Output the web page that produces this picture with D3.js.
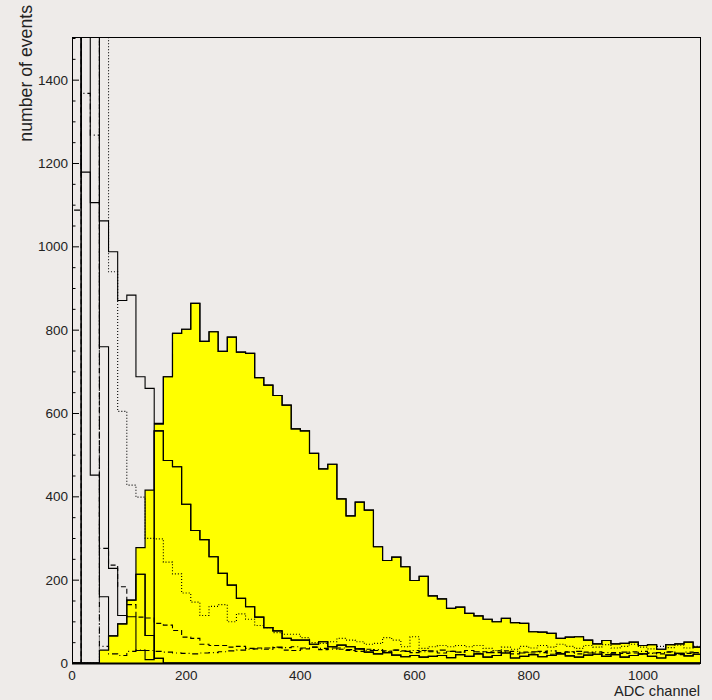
<!DOCTYPE html>
<html>
<head>
<meta charset="utf-8">
<script src="https://cdn.jsdelivr.net/npm/d3@7/dist/d3.min.js"></script>
<style>
  body { margin: 0; background: #eeebe9; }
  svg { display: block; }
  text { font-family: "Liberation Sans", Arial, sans-serif; fill: #222; }
</style>
</head>
<body>
<script>
//histogram bins are 16 ADC channels wide, 69 bins from 0
var binWidth = 16;

//pedestal-cut spectra (drawn filled yellow)
var yellowMain = [0,0,0,0,0,40,110,277,415,573,
    687,791,801,863,772,795,748,782,746,743,
    685,667,642,619,562,557,503,466,477,394,
    353,386,367,279,246,254,231,198,208,161,
    154,131,134,119,113,105,99,107,97,95,
    75,74,71,59,62,63,55,46,54,46,
    47,50,42,44,33,44,46,50,38];
var yellowMid = [0,0,0,0,0,0,0,0,0,557,
    486,471,381,318,296,255,215,187,155,135,
    110,85,77,59,55,55,45,51,39,43,
    39,34,26,22,25,19,15,18,14,16,
    18,13,20,16,22,14,18,24,12,16,
    20,15,18,22,17,14,19,21,16,20,
    14,18,22,16,12,19,23,17,21];
var yellowSmall = [0,0,0,31,65,94,151,213,66,11,
    0,0,0,0,0,0,0,0,0,0,
    0,0,0,0,0,0,0,0,0,0,
    0,0,0,0,0,0,0,0,0,0,
    0,0,0,0,0,0,0,0,0,0,
    0,0,0,0,0,0,0,0,0,0,
    0,0,0,0,0,0,0,0,0];

//raw spectra (pedestal + signal), above the pedestal they follow the cut ones
var rawSolidA = [0,2500,451,159].concat(yellowSmall.slice(4));
var rawSolidB = [2500,1178,1105,759,227,114,111,30,8].concat(yellowMid.slice(9));
var rawSolidC = [0,2500,2500,1061,987,870,883,687,659,575].concat(yellowMain.slice(10));
var rawDotted = [0,0,0,2500,939,604,427,398,299,298,
    242,214,168,146,114,136,140,99,118,105,
    90,85,73,69,69,61,49,47,51,59,
    55,51,45,47,61,55,39,63,35,39,
    42,39,42,39,42,35,30,38,33,40,
    36,42,38,45,40,35,42,38,44,36,
    40,45,38,34,40,37,43,36,40];
var rawDashed = [0,2500,2500,275,235,183,140,110,108,95,
    91,78,62,59,45,42,42,38,40,35,
    36,33,37,31,30,34,38,32,36,33,
    30,28,33,30,27,31,29,25,30,27,
    24,28,26,30,23,27,25,29,22,26,
    24,28,21,25,27,22,26,24,20,25,
    23,27,21,24,22,26,20,23,25];
var rawDashDot = [1087,1367,1267,40,22,18,28,31,30,28,
    26,24,23,22,24,25,27,29,31,33,
    34,36,38,37,39,36,38,35,33,36,
    32,34,30,32,29,31,28,30,27,29,
    31,28,26,30,27,25,29,26,28,24,
    27,25,29,23,26,28,24,27,25,22,
    26,24,28,23,25,27,22,26,24];

var xTicks = [0, 200, 400, 600, 800, 1000];
var yTicks = [0, 200, 400, 600, 800, 1000, 1200, 1400];

drawChart();

function drawChart(){
    var width = 712,
        height = 700;

    var svg = d3.select("body")
        .append("svg")
        .attr("width", width)
        .attr("height", height);

    var x = d3.scaleLinear().domain([0, 1100]).range([72, 700]);
    var y = d3.scaleLinear().domain([0, 1500]).range([663, 38]);

    //clip everything to the frame
    svg.append("clipPath").attr("id", "frame")
        .append("rect")
        .attr("x", x(0)).attr("y", 37)
        .attr("width", x(1100) - x(0)).attr("height", y(0) - 37);

    //frame (under the histograms)
    svg.append("rect")
        .attr("x", x(0) + 0.5).attr("y", 37.5)
        .attr("width", x(1100) - x(0)).attr("height", y(0) - 37)
        .attr("fill", "none").attr("stroke", "#000").attr("stroke-width", 1);

    //ticks drawn inside the frame
    var minorY = d3.range(0, 1501, 50);
    svg.selectAll(".ytick").data(minorY).enter().append("line")
        .attr("x1", x(0)).attr("x2", function(d){ return x(0) + (d % 200 === 0 ? 7 : 3.5); })
        .attr("y1", function(d){ return y(d) + 0.5; }).attr("y2", function(d){ return y(d) + 0.5; })
        .attr("stroke", "#000");
    var minorX = d3.range(0, 1101, 50);
    svg.selectAll(".xtick").data(minorX).enter().append("line")
        .attr("x1", function(d){ return x(d) + 0.5; }).attr("x2", function(d){ return x(d) + 0.5; })
        .attr("y1", y(0)).attr("y2", function(d){ return y(0) - (d % 200 === 0 ? 7 : 3.5); })
        .attr("stroke", "#000");

    var line = d3.line()
        .x(function(d){ return x(d[0]); })
        .y(function(d){ return y(d[1]); });

    function histPoints(vals){
        var pts = [[0, 0]];
        vals.forEach(function(v, i){
            pts.push([i * binWidth, v]);
            pts.push([(i + 1) * binWidth, v]);
        });
        pts.push([vals.length * binWidth, 0]);
        return pts;
    }

    var plot = svg.append("g").attr("clip-path", "url(#frame)");

    //filled spectra
    [yellowMain, yellowMid, yellowSmall].forEach(function(vals){
        plot.append("path")
            .attr("d", line(histPoints(vals)) + "Z")
            .attr("fill", "#ffff00")
            .attr("stroke", "none");
        plot.append("path")
            .attr("d", line(histPoints(vals)))
            .attr("fill", "none")
            .attr("stroke", "#000")
            .attr("stroke-width", 1.2);
    });

    //raw spectra
    var raws = [
        {vals: rawSolidA, dash: null},
        {vals: rawSolidB, dash: null},
        {vals: rawSolidC, dash: null},
        {vals: rawDotted, dash: "1,2"},
        {vals: rawDashed, dash: "5,3"},
        {vals: rawDashDot, dash: "6,3,1,3"}
    ];
    raws.forEach(function(r){
        plot.append("path")
            .attr("d", line(histPoints(r.vals)))
            .attr("fill", "none")
            .attr("stroke", "#000")
            .attr("stroke-width", 1.1)
            .attr("stroke-dasharray", r.dash);
    });

    //bottom axis line on top
    svg.append("line")
        .attr("x1", x(0)).attr("x2", x(1100))
        .attr("y1", y(0) + 0.5).attr("y2", y(0) + 0.5)
        .attr("stroke", "#000").attr("stroke-width", 2);

    //tick labels
    svg.selectAll(".xlab").data(xTicks).enter().append("text")
        .attr("x", function(d){ return x(d); })
        .attr("y", 680)
        .attr("text-anchor", "middle")
        .attr("font-size", "13.5px")
        .text(function(d){ return d; });
    svg.selectAll(".ylab").data(yTicks).enter().append("text")
        .attr("x", 68)
        .attr("y", function(d){ return y(d) + 5; })
        .attr("text-anchor", "end")
        .attr("font-size", "13.5px")
        .text(function(d){ return d; });

    //axis titles
    svg.append("text")
        .attr("transform", "translate(32,5) rotate(-90)")
        .attr("text-anchor", "end")
        .attr("font-size", "17.7px")
        .text("number of events");
    svg.append("text")
        .attr("x", 700)
        .attr("y", 696)
        .attr("text-anchor", "end")
        .attr("font-size", "14.6px")
        .text("ADC channel");
};
</script>
</body>
</html>
